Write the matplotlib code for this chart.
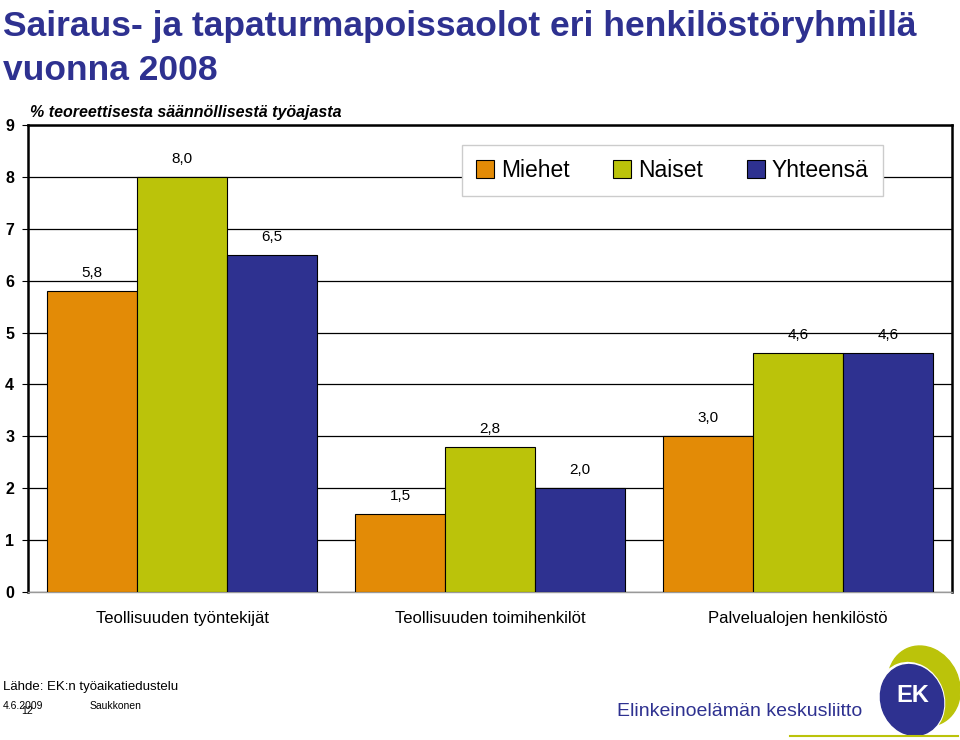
import numpy as np
import matplotlib
matplotlib.use("Agg")
from matplotlib import pyplot as plt
from matplotlib.patches import Ellipse, Patch

# data
categories = ['Teollisuuden työntekijät', 'Teollisuuden toimihenkilöt', 'Palvelualojen henkilöstö']
series_names = ['Miehet', 'Naiset', 'Yhteensä']
miehet = [5.8, 1.5, 3.0]
naiset = [8.0, 2.8, 4.6]
yhteensa = [6.5, 2.0, 4.6]
y_ticks = list(range(0, 10))

colours = ['#E38B06', '#BBC30A', '#2E3190']
title_blue = '#2E3190'
sans = ['Liberation Sans', 'DejaVu Sans']


def draw_chart():
    fig = plt.figure(figsize=(9.6, 7.4), dpi=100)
    ax = fig.add_axes([28 / 960, 148 / 740, 924 / 960, 467 / 740])

    x = np.arange(len(categories))
    width = 90 / 308
    all_series = [miehet, naiset, yhteensa]
    for i, values in enumerate(all_series):
        pos = x + (i - 1) * width
        ax.bar(pos, values, width=width, color=colours[i], edgecolor='black',
               linewidth=0.8, zorder=3, label=series_names[i])
        for px, v in zip(pos, values):
            ax.text(px, v + 0.21, f'{v:.1f}'.replace('.', ','), ha='center',
                    va='bottom', fontsize=11, family=sans)

    ax.set_xlim(-0.5, len(categories) - 0.5)
    ax.set_ylim(0, 9)
    ax.set_yticks(y_ticks)
    ax.set_yticklabels([str(t) for t in y_ticks], fontsize=11.5, family=sans,
                       fontweight='bold')
    ax.set_xticks(x)
    ax.set_xticklabels(categories, fontsize=12, family=sans)
    ax.tick_params(axis='x', length=0, pad=14)
    ax.tick_params(axis='y', length=4, width=0.8, pad=6)
    ax.yaxis.grid(True, color='black', linewidth=0.9, zorder=0)
    for s in ax.spines.values():
        s.set_linewidth(1.8)
    ax.spines['bottom'].set_linewidth(1.0)
    ax.spines['bottom'].set_color('#999999')

    handles = [Patch(facecolor=c, edgecolor='black', linewidth=0.8) for c in colours]
    leg = ax.legend(handles, series_names, ncol=3, loc='upper left',
                    bbox_to_anchor=(462 / 960, 1 - 145 / 740), bbox_transform=fig.transFigure,
                    prop={'family': sans, 'size': 16.5}, frameon=True, fancybox=False,
                    handlelength=0.8, handleheight=0.8, handletextpad=0.3,
                    columnspacing=1.9, borderpad=0.6, borderaxespad=0, framealpha=1)
    leg.get_frame().set_edgecolor('#cccccc')
    leg.get_frame().set_linewidth(1.0)
    leg.set_zorder(5)

    # titles and footer texts
    fig.text(3 / 960, 1 - 36 / 740, 'Sairaus- ja tapaturmapoissaolot eri henkilöstöryhmillä',
             ha='left', va='baseline', fontsize=25.5, fontweight='bold', color=title_blue,
             family=sans)
    fig.text(3 / 960, 1 - 80 / 740, 'vuonna 2008',
             ha='left', va='baseline', fontsize=25.5, fontweight='bold', color=title_blue,
             family=sans)
    fig.text(30 / 960, 1 - 113 / 740, '% teoreettisesta säännöllisestä työajasta',
             ha='left', va='center', fontsize=11.5, fontweight='bold', style='italic',
             family=sans)
    fig.text(3 / 960, 1 - 687 / 740, 'Lähde: EK:n työaikatiedustelu', ha='left',
             va='center', fontsize=9.5, family=sans)
    fig.text(3 / 960, 1 - 706 / 740, '4.6.2009', ha='left', va='center',
             fontsize=7.5, family=sans)
    fig.text(21 / 960, 1 - 711 / 740, '12', ha='left', va='center',
             fontsize=7.5, family=sans)
    fig.text(90 / 960, 1 - 706 / 740, 'Saukkonen', ha='left', va='center',
             fontsize=7.5, family=sans)

    # logo
    lax = fig.add_axes([0, 0, 1, 1], zorder=-1)
    lax.set_xlim(0, 960)
    lax.set_ylim(740, 0)
    lax.axis('off')
    lax.add_patch(Ellipse((924, 686), 70, 82, angle=-25, color='#BBC30A'))
    lax.add_patch(Ellipse((911, 700), 66, 76, angle=-20, color='white'))
    lax.add_patch(Ellipse((912, 700), 62, 72, angle=-20, color=title_blue))
    lax.plot([790, 958], [736, 736], color='#BBC30A', linewidth=1.5)
    lax.text(913, 696, 'EK', color='white', fontsize=17, fontweight='bold',
             ha='center', va='center', family=sans)
    lax.text(617, 712, 'Elinkeinoelämän keskusliitto', color=title_blue,
             fontsize=14, ha='left', va='center', family=sans)

    fig.savefig('out.png', dpi=100)


if __name__ == "__main__":
    draw_chart()
